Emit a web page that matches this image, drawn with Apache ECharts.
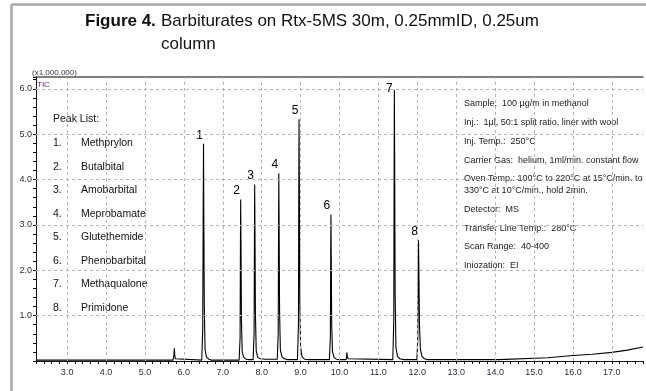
<!DOCTYPE html>
<html>
<head>
<meta charset="utf-8">
<script src="https://cdn.jsdelivr.net/npm/echarts@6/dist/echarts.min.js"></script>
<style>
html,body{margin:0;padding:0;background:#fff;}
#chart{width:646px;height:391px;}
</style>
</head>
<body>
<div id="chart"></div>
<script>
// ---- Data ----
const titleBold = 'Figure 4.';
const titleLine1 = 'Barbiturates on Rtx-5MS 30m, 0.25mmID, 0.25um';
const titleLine2 = 'column';
const yUnitLabel = '(x1.000.000)';
const traceName = 'TIC';

// x ticks shown (min)
const xTickLabels = [3, 4, 5, 6, 7, 8, 9, 10, 11, 12, 13, 14, 15, 16, 17];
const yTickLabels = [1, 2, 3, 4, 5, 6];

// peak labels
const peakLabels = ['1', '2', '3', '4', '5', '6', '7', '8'];
const peakTimes = [6.505, 7.46, 7.82, 8.44, 8.96, 9.78, 11.41, 12.03];
const peakHeights = [4.79, 3.56, 3.89, 4.14, 5.33, 3.23, 5.98, 2.66];

const peakListTitle = 'Peak List:';
const peakListNumbers = ['1.', '2.', '3.', '4.', '5.', '6.', '7.', '8.'];
const peakListNames = ['Methprylon', 'Butalbital', 'Amobarbital', 'Meprobamate',
  'Glutethemide', 'Phenobarbital', 'Methaqualone', 'Primidone'];

const conditions = [
  'Sample:  100 µg/m in methanol',
  'Inj.:  1µl, 50:1 split ratio, liner with wool',
  'Inj. Temp.:  250°C',
  'Carrier Gas:  helium, 1ml/min. constant flow',
  'Oven Temp.: 100°C to 220°C at 15°C/min. to\n330°C at 10°C/min., hold 2min.',
  'Detector:  MS',
  'Transfer Line Temp.:  280°C',
  'Scan Range:  40-400',
  'Iniozation:  EI'
];

// TIC trace: [time (min), intensity (x1,000,000)]
const ticTrace = [
  [2.20, 0.02], [3.18, 0.02], [3.20, 0.05], [3.22, 0.02], [5.72, 0.02],
  [5.745, 0.12], [5.755, 0.28], [5.765, 0.14], [5.78, 0.05], [5.82, 0.02],
  [6.46, 0.02], [6.485, 0.7], [6.495, 2.9], [6.505, 4.79], [6.512, 3.4], [6.525, 1.2],
  [6.545, 0.25], [6.58, 0.09], [6.64, 0.04], [6.70, 0.02],
  [7.42, 0.02], [7.445, 0.5], [7.453, 2.3], [7.46, 3.56], [7.468, 2.6], [7.48, 0.9],
  [7.50, 0.2], [7.54, 0.08], [7.60, 0.04], [7.66, 0.03],
  [7.78, 0.03], [7.805, 0.6], [7.813, 2.5], [7.82, 3.89], [7.828, 2.8], [7.84, 1.0],
  [7.86, 0.22], [7.90, 0.08], [7.96, 0.05], [8.10, 0.04], [8.30, 0.04],
  [8.40, 0.04], [8.425, 0.6], [8.433, 2.7], [8.44, 4.14], [8.448, 3.0], [8.46, 1.1],
  [8.48, 0.25], [8.52, 0.09], [8.58, 0.05], [8.66, 0.03],
  [8.92, 0.03], [8.945, 0.8], [8.953, 3.6], [8.96, 5.33], [8.968, 3.8], [8.98, 1.3],
  [9.00, 0.3], [9.04, 0.09], [9.10, 0.04], [9.20, 0.03],
  [9.74, 0.03], [9.765, 0.5], [9.773, 2.1], [9.78, 3.23], [9.788, 2.3], [9.80, 0.8],
  [9.82, 0.2], [9.86, 0.08], [9.92, 0.04], [10.00, 0.03],
  [10.17, 0.03], [10.183, 0.1], [10.19, 0.19], [10.20, 0.1], [10.22, 0.05], [10.27, 0.03],
  [11.37, 0.03], [11.395, 0.9], [11.403, 4.0], [11.41, 5.98], [11.418, 4.3], [11.43, 1.5],
  [11.45, 0.3], [11.49, 0.1], [11.55, 0.05], [11.65, 0.03],
  [11.99, 0.03], [12.012, 0.5], [12.022, 1.8], [12.03, 2.66], [12.04, 2.0], [12.055, 0.8],
  [12.08, 0.25], [12.12, 0.1], [12.18, 0.05], [12.26, 0.03],
  [14.10, 0.03], [14.12, 0.06], [15.35, 0.07], [15.37, 0.09], [16.00, 0.12],
  [16.50, 0.15], [17.00, 0.19], [17.40, 0.24], [17.80, 0.31]
];

// ---- Chart ----
const FONT = '"Liberation Sans", Arial, sans-serif';
const NARROW = '"Liberation Sans Narrow", "Arial Narrow", "Liberation Sans", sans-serif';
const chart = echarts.init(document.getElementById('chart'), null, {renderer: 'canvas'});

const isInt = v => Math.abs(v - Math.round(v)) < 1e-6;

const graphics = [
  // outer frame (left + top, cropped)
  {type: 'line', shape: {x1: 11.5, y1: 4, x2: 11.5, y2: 391}, style: {stroke: '#a8a8a8', lineWidth: 2.5}},
  {type: 'line', shape: {x1: 11.5, y1: 4.5, x2: 646, y2: 4.5}, style: {stroke: '#a8a8a8', lineWidth: 2.5}},
  {type: 'text', left: 85, top: 13, style: {text: titleBold, font: 'bold 17px ' + FONT, fill: '#111'}},
  {type: 'text', left: 161, top: 13, style: {text: titleLine1, font: '17px ' + FONT, fill: '#111'}},
  {type: 'text', left: 161, top: 36, style: {text: titleLine2, font: '17px ' + FONT, fill: '#111'}},
  {type: 'text', left: 32, top: 69, style: {text: yUnitLabel, font: '8px ' + NARROW, fill: '#334'}},
  {type: 'text', left: 37, top: 81, style: {text: traceName, font: '8px ' + NARROW, fill: '#6a2a7a'}},
  {type: 'text', left: 53, top: 114, style: {text: peakListTitle, font: '10.5px ' + NARROW, fill: '#111'}}
];
peakListNumbers.forEach((n, i) => {
  graphics.push({type: 'text', left: 53, top: 138 + i * 23.5, style: {text: n, font: '10.5px ' + NARROW, fill: '#111'}});
  graphics.push({type: 'text', left: 81, top: 138 + i * 23.5, style: {text: peakListNames[i], font: '10.5px ' + NARROW, fill: '#111'}});
});
let cy = 98;
conditions.forEach(c => {
  graphics.push({type: 'text', left: 464, top: cy, style: {text: c, font: '9px ' + NARROW, fill: '#222', lineHeight: 11.5}});
  cy += c.indexOf('\n') >= 0 ? 30.3 : 18.8;
});

const labelPoints = peakTimes.map((t, i) => ({
  value: [t, peakHeights[i]],
  label: {
    show: true,
    formatter: peakLabels[i],
    position: 'top',
    offset: i === 6 ? [-5, 10] : [-4, 3]
  }
}));

chart.setOption({
  animation: false,
  backgroundColor: '#fff',
  grid: {left: 36, right: 0, top: 77, bottom: 30, containLabel: false},
  xAxis: [{
    type: 'value', min: 2.2, max: 17.8, interval: 0.2,
    axisLine: {show: true, onZero: false, lineStyle: {color: '#111', width: 1}},
    axisTick: {show: true, length: 3, lineStyle: {color: '#111'}},
    axisLabel: {
      margin: 7, color: '#2c2c3c', fontSize: 9, fontFamily: NARROW,
      formatter: v => (isInt(v) && xTickLabels.indexOf(Math.round(v)) >= 0) ? Math.round(v).toFixed(1) : ''
    },
    splitLine: {show: false}
  }, {
    type: 'value', min: 2.2, max: 17.8, position: 'top',
    axisLine: {show: true, onZero: false, lineStyle: {color: '#555', width: 1.5}},
    axisTick: {show: false}, axisLabel: {show: false}, splitLine: {show: false}
  }],
  yAxis: {
    type: 'value', min: 0, max: 6.26, interval: 0.2,
    axisLine: {show: true, onZero: false, lineStyle: {color: '#111', width: 1}},
    axisTick: {show: true, length: 3, lineStyle: {color: '#111'}},
    axisLabel: {
      margin: 4, color: '#2c2c3c', fontSize: 9, fontFamily: NARROW,
      formatter: v => (isInt(v) && yTickLabels.indexOf(Math.round(v)) >= 0) ? Math.round(v).toFixed(1) : ''
    },
    splitLine: {show: false}
  },
  graphic: graphics,
  series: [{
    type: 'line',
    name: traceName,
    data: ticTrace,
    showSymbol: false,
    symbol: 'none',
    sampling: null,
    lineStyle: {color: '#000', width: 1.1},
    z: 3,
    markLine: {
      silent: true, symbol: ['none', 'none'], animation: false,
      label: {show: false},
      lineStyle: {color: '#b4b4b4', type: [3, 3], width: 1},
      data: xTickLabels.map(v => ({xAxis: v})).concat(yTickLabels.map(v => ({yAxis: v})))
    }
  }, {
    type: 'scatter',
    data: labelPoints,
    symbol: 'circle',
    symbolSize: 1,
    itemStyle: {color: 'rgba(0,0,0,0)'},
    label: {color: '#000', opacity: 1, fontSize: 12, fontFamily: FONT},
    silent: true,
    z: 4
  }]
});
</script>
</body>
</html>
